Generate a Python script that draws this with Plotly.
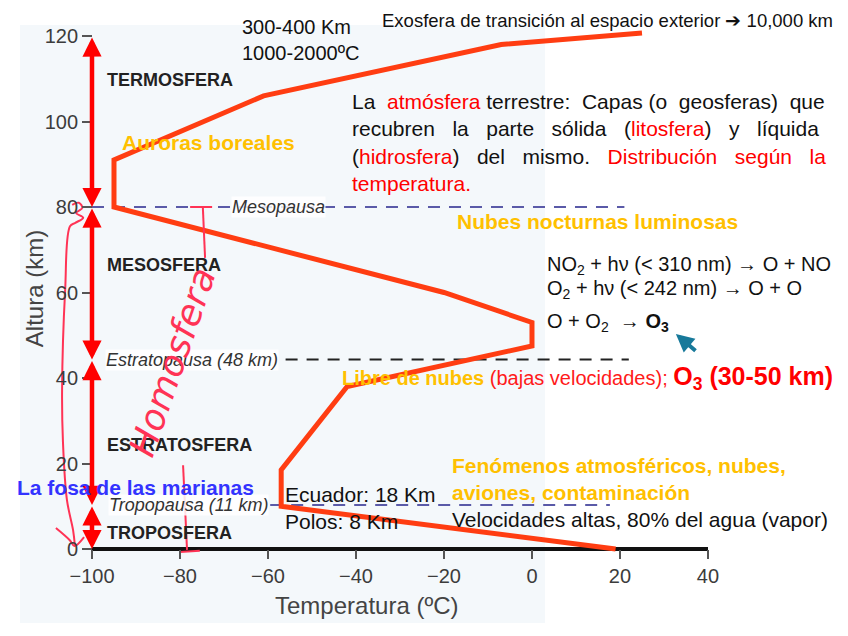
import plotly.graph_objects as go

# ---------------- data ----------------
profile_temp = [19, -57, -57, -42, 0, 0, -20, -95, -95, -61, -7, 25]
profile_alt = [0, 10, 18.5, 38, 47.5, 53, 60, 80, 91, 106, 118, 120.7]

x_ticks = [-100, -80, -60, -40, -20, 0, 20, 40]
y_ticks = [0, 20, 40, 60, 80, 100, 120]

layer_bounds = [120, 80, 44.3, 10.3, 0]          # arrow limits (km)
layer_names = ["TERMOSFERA", "MESOSFERA", "ESTRATOSFERA", "TROPOSFERA"]
layer_label_alt = [109.7, 66.4, 24.3, 3.7]

pause_names = ["Mesopausa", "Estratopausa (48 km)", "Tropopausa (11 km)"]
pause_alt = [80, 44.3, 10.3]
pause_x0 = [-100, -56, -59.5]
pause_x1 = [21, 22, 17.7]
pause_label_x = [-68.5, -97, -96.3]
pause_colors = ["#5a5aa8", "#222222", "#5a5aa8"]

# handwritten strokes (temperature, altitude)
hand_left_t = [-104.5, -103.0, -102.2, -103.6, -102.0, -103.8, -105.0, -106.1, -106.8, -106.6, -105.7, -104.3, -103.9]
hand_left_h = [80.5, 81.0, 79.8, 78.6, 77.5, 76.3, 75.5, 60.6, 37.2, 25.0, 11.5, 4.4, 0.9]
hand_v_t = [-108.2, -105.0, -104.0, -101.8]
hand_v_h = [4.9, 2.0, 0.7, 2.8]
hand_top_bar_t = [-77.7, -72.7]
hand_top_bar_h = [80, 80]
hand_top_t = [-74.8, -74.3]
hand_top_h = [79.8, 68.1]
hand_bot_t = [-79.3, -78.4]
hand_bot_h = [19.6, -0.2]
hand_bot_bar_t = [-80.0, -75.5]
hand_bot_bar_h = [-0.7, -0.4]

FONT = "Liberation Sans, Arial, sans-serif"
ORANGE = "#ffc000"
NB = "\u00a0"

fig = go.Figure()

# background panel of the original slide figure
fig.add_shape(type="rect", xref="paper", yref="paper", x0=0.0142, x1=0.6333,
              y0=0.033, y1=0.9733, fillcolor="#f4f8fb", line_width=0, layer="below")

# zero line
fig.add_trace(go.Scatter(x=[x_ticks[0], x_ticks[-1]], y=[0, 0], mode="lines",
                         line=dict(color="#111111", width=4), hoverinfo="skip"))

# pause dashed lines
for a, x0, x1, c in zip(pause_alt, pause_x0, pause_x1, pause_colors):
    fig.add_trace(go.Scatter(x=[x0, x1], y=[a, a], mode="lines",
                             line=dict(color=c, width=2, dash="12px,9px"), hoverinfo="skip"))

# temperature profile
fig.add_trace(go.Scatter(x=profile_temp, y=profile_alt, mode="lines",
                         line=dict(color="#ff3d12", width=5), hoverinfo="skip"))

# handwriting strokes
for tx, hy in [(hand_left_t, hand_left_h), (hand_v_t, hand_v_h), (hand_top_bar_t, hand_top_bar_h),
               (hand_top_t, hand_top_h), (hand_bot_t, hand_bot_h), (hand_bot_bar_t, hand_bot_bar_h)]:
    fig.add_trace(go.Scatter(x=tx, y=hy, mode="lines", line=dict(color="#ff3355", width=2, shape="spline"),
                             hoverinfo="skip"))

ann = []
# layer arrows
for top, bot in zip(layer_bounds[:-1], layer_bounds[1:]):
    ann.append(dict(x=-100, y=bot, ax=-100, ay=top, xref="x", yref="y", axref="x", ayref="y",
                    text="", showarrow=True, arrowside="end+start", arrowhead=2, startarrowhead=2,
                    arrowsize=0.85, startarrowsize=0.85, arrowwidth=4.5, arrowcolor="#ff0000",
                    standoff=0, startstandoff=0))

for name, a in zip(layer_names, layer_label_alt):
    ann.append(dict(x=-97, y=a, xref="x", yref="y", text="<b>" + name + "</b>", showarrow=False,
                    xanchor="left", font=dict(family=FONT, size=18, color="#222222")))

for name, a, lx in zip(pause_names, pause_alt, pause_label_x):
    ann.append(dict(x=lx, y=a, xref="x", yref="y", text="<i>" + name + "</i>", showarrow=False,
                    xanchor="left", bgcolor="rgba(255,255,255,0.85)", borderpad=0,
                    font=dict(family=FONT, size=18, color="#333333")))

def txt(x, y, text, size=21, color="#111111", xanchor="left", **kw):
    d = dict(x=x, y=y, xref="x", yref="y", text=text, showarrow=False, xanchor=xanchor,
             align="left", font=dict(family=FONT, size=size, color=color))
    d.update(kw)
    ann.append(d)

R = "<span style='color:#ff0000'>"
txt(-66.4, 119.1, "300-400 Km<br>1000-2000ºC", size=20)
txt(-34.5, 123.7, "Exosfera de transición al espacio exterior ➔ 10,000 km", size=18.5)
txt(-93.6, 95.2, "<b>Auroras boreales</b>", color=ORANGE)
par_lines = [
    "La" + NB + " " + R + "atmósfera</span> terrestre:" + NB + " Capas (o" + NB + " geosferas)" + NB + " que",
    ("recubren" + NB * 2 + " la" + NB * 2 + " parte" + NB * 2 + " sólida" + NB * 2 + " (" + R + "litosfera</span>)"
     + NB * 2 + " y" + NB * 2 + " líquida"),
    ("(" + R + "hidrosfera</span>)" + NB * 2 + " del" + NB * 2 + " mismo." + NB * 2 + " " + R + "Distribución"
     + NB * 2 + " según" + NB * 2 + " la</span>"),
    R + "temperatura.</span>",
]
txt(-41.4, 95.0, "<br>".join(par_lines))
txt(-17.5, 76.5, "<b>Nubes nocturnas luminosas</b>", color=ORANGE)
txt(3.0, 66.4, "NO<sub>2</sub> + hν (&lt; 310 nm) → O + NO", size=20)
txt(3.0, 60.6, "O<sub>2</sub> + hν (&lt; 242 nm) → O + O", size=20)
txt(3.0, 53.1, "O + O<sub>2</sub>  → <b>O<sub>3</sub></b>", size=20)
txt(-43.6, 40.0,
    "<b>Libre de nubes</b> <span style='color:#ff1a1a'>(bajas velocidades); </span>"
    "<span style='color:#ff0000;font-size:25px'><b>O<sub>3</sub> (30-50 km)</b></span>",
    size=20, color=ORANGE)
txt(-18.6, 16.3, "<b>Fenómenos atmosféricos, nubes,<br>aviones, contaminación</b>", color=ORANGE)
txt(-18.6, 7.0, "Velocidades altas, 80% del agua (vapor)")
txt(-56.6, 9.7, "Ecuador: 18 Km<br>Polos: 8 Km")
txt(-117.5, 14.3, "<b>La fosa de las marianas</b>", color="#3333ff")

# ozone arrow
ann.append(dict(x=32.7, y=50.3, ax=37.5, ay=46.1, xref="x", yref="y", axref="x", ayref="y",
                text="", showarrow=True, arrowhead=2, arrowsize=0.9, arrowwidth=4,
                arrowcolor="#17799a", standoff=0))

# handwritten word
txt(-81.8, 43.7, "<i>Homosfera</i>", xanchor="center", textangle=-71,
    font=dict(family="DejaVu Sans, sans-serif", size=36, color="#ff3355"))

# axis titles
txt(-37.7, -13.1, "Temperatura (ºC)", size=24, color="#444444", xanchor="center")
txt(-113.2, 61.0, "Altura (km)", size=24, color="#444444", xanchor="center", textangle=-90)

fig.update_layout(
    width=848, height=636, margin=dict(l=0, r=0, t=0, b=0),
    paper_bgcolor="white", plot_bgcolor="rgba(0,0,0,0)", showlegend=False,
    annotations=ann,
    xaxis=dict(range=[-119.09, 73.64], anchor="free", position=0.1494, tickvals=x_ticks,
               ticks="outside", ticklen=9, tickwidth=1.5, tickcolor="#555555", showgrid=False,
               zeroline=False, showline=False, tickfont=dict(family=FONT, size=20, color="#3c3c3c")),
    yaxis=dict(range=[-22.22, 126.55], anchor="free", position=0.0991, tickvals=y_ticks,
               ticks="outside", ticklen=10, tickwidth=1.5, tickcolor="#555555", showgrid=False,
               zeroline=False, showline=False, tickfont=dict(family=FONT, size=20, color="#3c3c3c")),
)

fig.write_html("out.html")
